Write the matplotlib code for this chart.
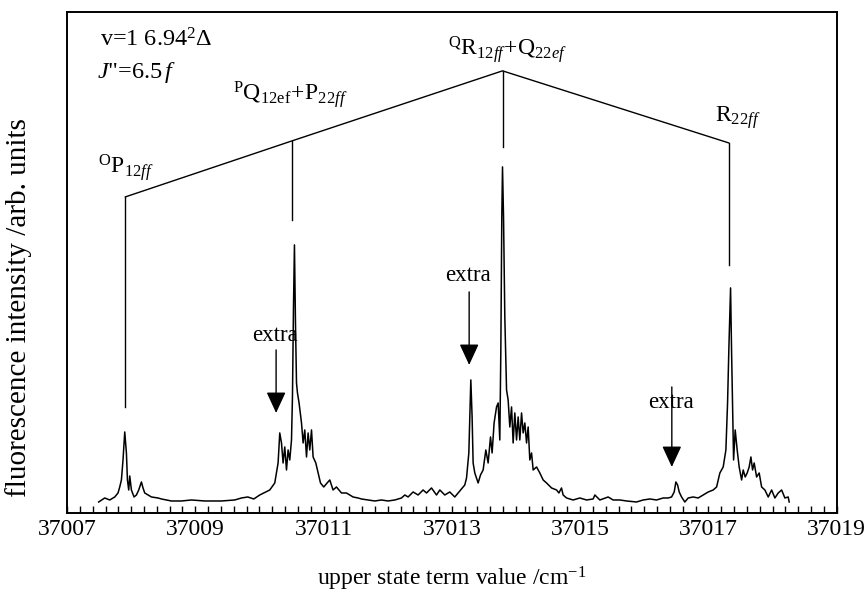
import numpy as np
import matplotlib
matplotlib.use("Agg")
import matplotlib.pyplot as plt
from matplotlib.ticker import MultipleLocator, FixedLocator, FormatStrFormatter

plt.rcParams['font.family'] = ['Liberation Serif', 'DejaVu Serif']
plt.rcParams['mathtext.fontset'] = 'custom'
plt.rcParams['mathtext.rm'] = 'Liberation Serif'
plt.rcParams['mathtext.it'] = 'Liberation Serif:italic'
plt.rcParams['mathtext.bf'] = 'Liberation Serif:bold'

# spectrum: offset from 37007 cm-1, intensity in arb. units
offset = [
    0.494, 0.588, 0.666, 0.744, 0.795, 0.822, 0.848, 0.873, 0.900, 0.926,
    0.942, 0.962, 0.978, 1.004, 1.045, 1.082, 1.118, 1.160, 1.185, 1.212,
    1.263, 1.316, 1.419, 1.472, 1.628, 1.784, 1.940, 2.148, 2.408, 2.615,
    2.720, 2.818, 2.912, 3.005, 3.161, 3.239, 3.291, 3.317, 3.344, 3.369,
    3.395, 3.422, 3.447, 3.473, 3.500, 3.515, 3.531, 3.546, 3.562, 3.578,
    3.593, 3.618, 3.656, 3.681, 3.707, 3.734, 3.759, 3.785, 3.812, 3.837,
    3.879, 3.915, 3.952, 4.003, 4.055, 4.097, 4.148, 4.201, 4.279, 4.357,
    4.460, 4.538, 4.591, 4.694, 4.799, 4.903, 5.006, 5.111, 5.215, 5.267,
    5.318, 5.396, 5.474, 5.552, 5.605, 5.683, 5.761, 5.813, 5.890, 5.968,
    6.046, 6.124, 6.176, 6.202, 6.229, 6.265, 6.296, 6.316, 6.332, 6.358,
    6.410, 6.447, 6.488, 6.530, 6.566, 6.603, 6.628, 6.659, 6.697, 6.722,
    6.748, 6.764, 6.779, 6.790, 6.806, 6.826, 6.853, 6.878, 6.904, 6.931,
    6.956, 6.982, 7.009, 7.034, 7.060, 7.087, 7.112, 7.138, 7.165, 7.190,
    7.216, 7.243, 7.268, 7.321, 7.372, 7.424, 7.477, 7.555, 7.633, 7.669,
    7.710, 7.735, 7.789, 7.891, 7.996, 8.101, 8.203, 8.230, 8.308, 8.437,
    8.515, 8.620, 8.724, 8.880, 8.983, 9.088, 9.192, 9.295, 9.373, 9.426,
    9.467, 9.493, 9.520, 9.545, 9.582, 9.633, 9.685, 9.763, 9.841, 9.919,
    9.997, 10.075, 10.128, 10.179, 10.231, 10.273, 10.299, 10.320, 10.346, 10.362,
    10.377, 10.393, 10.418, 10.449, 10.480, 10.518, 10.543, 10.574, 10.605, 10.636,
    10.663, 10.689, 10.714, 10.752, 10.792, 10.830, 10.881, 10.933, 10.986, 11.037,
    11.089, 11.142, 11.193, 11.244, 11.260,
]
intensity = [
    11, 15, 13, 16, 20, 26, 33, 53, 81, 60,
    33, 23, 37, 23, 16, 18, 23, 31, 25, 20,
    18, 16, 15, 14, 12, 12, 13, 12, 12, 13,
    15, 16, 14, 18, 23, 30, 50, 80, 70, 50,
    66, 43, 63, 53, 73, 116, 206, 268, 190, 130,
    120, 110, 90, 70, 83, 56, 80, 63, 83, 56,
    50, 40, 30, 26, 30, 33, 23, 26, 20, 20,
    16, 15, 14, 13, 12, 13, 12, 13, 15, 18,
    16, 21, 18, 23, 20, 25, 18, 23, 18, 21,
    16, 22, 26, 28, 35, 60, 133, 96, 50, 40,
    30, 38, 43, 63, 50, 76, 60, 90, 106, 110,
    73, 163, 296, 346, 296, 196, 123, 113, 86, 106,
    70, 100, 73, 96, 73, 100, 80, 90, 70, 86,
    53, 60, 43, 46, 40, 33, 30, 25, 23, 20,
    25, 18, 15, 13, 15, 13, 14, 18, 13, 16,
    13, 13, 12, 11, 13, 14, 13, 15, 15, 16,
    21, 31, 28, 21, 16, 11, 15, 16, 15, 18,
    21, 23, 26, 40, 46, 63, 110, 166, 225, 160,
    110, 53, 83, 63, 46, 33, 43, 36, 40, 46,
    56, 43, 50, 36, 40, 26, 23, 16, 23, 15,
    20, 23, 15, 16, 11,
]
term_value = 37007 + np.array(offset)

# assignment bracket: line positions and heights
line_pos = [37007.911, 37010.509, 37013.790, 37017.315]
line_top = [316, 372, 442, 370]
line_bottom = [106, 293, 366, 248]
line_labels = [r'$^{\mathrm{O}}\mathrm{P}_{12\mathit{ff}}$',
               r'$^{\mathrm{P}}\mathrm{Q}_{12\mathrm{ef}}\!+\!\mathrm{P}_{22\mathit{ff}}$',
               r'$^{\mathrm{Q}}\mathrm{R}_{12\mathit{ff}}\!+\!\mathrm{Q}_{22\mathit{ef}}$',
               r'$\mathrm{R}_{22\mathit{ff}}$']
label_x = [37007.48, 37009.59, 37012.94, 37017.11]
label_y = [340, 413, 458, 391]

# "extra" arrows
extra_x = [37010.26, 37013.27, 37016.43]
extra_top = [163, 221, 126]
extra_tip = [100, 148, 46]
extra_text_y = [172, 232, 105]

ticks = [37007, 37009, 37011, 37013, 37015, 37017, 37019]

fig = plt.figure(figsize=(8.67, 5.91), dpi=100)
ax = fig.add_axes([0.0773, 0.132, 0.8877, 0.848])

ax.plot(term_value, intensity, color='black', lw=1.1)

# bracket
ax.plot(line_pos, line_top, color='black', lw=1.0)
for xp, top, bot in zip(line_pos, line_top, line_bottom):
    ax.plot([xp, xp], [bot, top], color='black', lw=1.0)
for lab, xl, yl in zip(line_labels, label_x, label_y):
    ax.text(xl, yl, lab, fontsize=17, ha='left', va='baseline')

for xa, top, tip, ty in zip(extra_x, extra_top, extra_tip, extra_text_y):
    ax.annotate('', xy=(xa, tip), xytext=(xa, top),
                arrowprops=dict(arrowstyle='-|>,head_length=13,head_width=6',
                                mutation_scale=1, color='black', lw=1.0,
                                shrinkA=0, shrinkB=0))
    ax.text(xa - 0.02, ty, 'extra', fontsize=16.5, ha='center', va='baseline')

ax.text(37007.51, 466, 'v=1 6.94$^{2}$Δ', fontsize=17.5, va='baseline')
ax.text(37007.46, 435, '$\\mathit{J}$"=6.5$\\,\\mathit{f}$', fontsize=17.5, va='baseline')

ax.set_xlim(37007, 37019)
ax.set_ylim(0, 501)
ax.xaxis.set_major_locator(FixedLocator(ticks))
ax.xaxis.set_minor_locator(MultipleLocator(0.2))
ax.xaxis.set_major_formatter(FormatStrFormatter('%d'))
ax.tick_params(axis='x', which='both', direction='in', length=5, width=1,
               labelsize=17, pad=4, top=False)
ax.set_yticks([])
for s in ax.spines.values():
    s.set_linewidth(1.4)

ax.set_xlabel('upper state term value /cm$^{\\mathrm{-1}}$', fontsize=17, labelpad=18)
ax.set_ylabel('fluorescence intensity /arb. units', fontsize=21)
ax.yaxis.set_label_coords(-0.045, 0.41)

fig.savefig('out.png', dpi=100)
